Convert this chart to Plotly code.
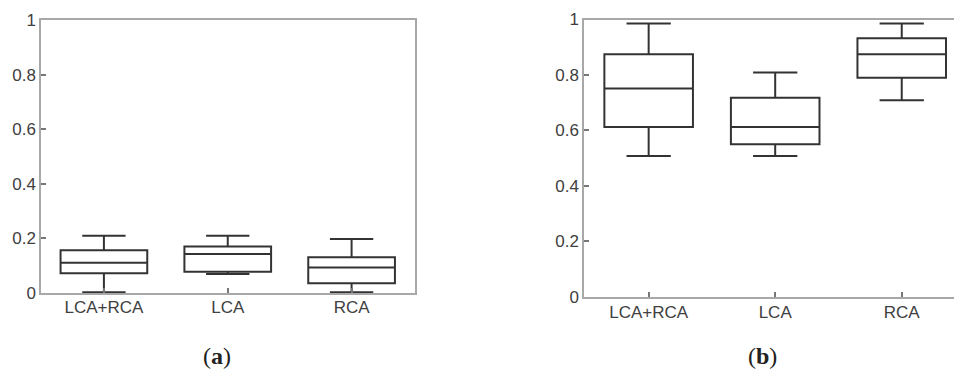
import plotly.graph_objects as go

categories = ["LCA+RCA", "LCA", "RCA"]

# Panel (a)
a_lower = [0.003, 0.070, 0.003]
a_q1 = [0.072, 0.078, 0.036]
a_median = [0.111, 0.143, 0.093]
a_q3 = [0.157, 0.170, 0.131]
a_upper = [0.210, 0.210, 0.198]

# Panel (b)
b_lower = [0.508, 0.508, 0.709]
b_q1 = [0.612, 0.550, 0.790]
b_median = [0.751, 0.612, 0.875]
b_q3 = [0.875, 0.718, 0.932]
b_upper = [0.986, 0.809, 0.986]

y_ticks = [0, 0.2, 0.4, 0.6, 0.8, 1]
y_ticktext = ["0", "0.2", "0.4", "0.6", "0.8", "1"]

W, H = 954, 374
BOX_COLOR = "#333333"
AXIS_COLOR = "#a8a8a8"
FONT = dict(family="Liberation Sans, Arial, sans-serif", size=17, color="#404040")

fig = go.Figure()


def add_box(xa, ya, lo, q1, med, q3, up):
    fig.add_trace(go.Box(
        x=categories, lowerfence=lo, q1=q1, median=med, q3=q3, upperfence=up,
        xaxis=xa, yaxis=ya, width=0.7, whiskerwidth=0.5,
        line=dict(color=BOX_COLOR, width=2), fillcolor="white",
        boxpoints=False, showlegend=False, hoverinfo="skip",
    ))


add_box("x", "y", a_lower, a_q1, a_median, a_q3, a_upper)
add_box("x2", "y2", b_lower, b_q1, b_median, b_q3, b_upper)

axis_common = dict(
    showline=True, linecolor=AXIS_COLOR, linewidth=1.5,
    showgrid=False, zeroline=False, ticks="inside", ticklen=5,
    tickcolor="#777777", tickwidth=1.5, tickfont=FONT, fixedrange=True,
    automargin=False,
)

# panel geometry (pixels)
aL, aR, aT, aB = 41, 414.5, 20, 293
bL, bR, bT, bB = 584, 954, 19.5, 296.7

CAP_FONT = dict(family="Liberation Serif, DejaVu Serif, serif", size=24, color="#222222")

fig.update_layout(
    template="none",
    width=W, height=H,
    margin=dict(l=0, r=0, t=0, b=0, autoexpand=False),
    paper_bgcolor="white", plot_bgcolor="white",
    xaxis=dict(axis_common, domain=[aL / W, aR / W], range=[-0.508, 2.508],
               mirror=True, anchor="y", ticklabelstandoff=-2),
    yaxis=dict(axis_common, domain=[(H - aB) / H, (H - aT) / H], range=[0, 1],
               tickvals=y_ticks, ticktext=y_ticktext, mirror=True, anchor="x"),
    xaxis2=dict(axis_common, domain=[bL / W, bR / W], range=[-0.511, 2.413],
                mirror=True, anchor="y2", ticklabelstandoff=-1),
    yaxis2=dict(axis_common, domain=[(H - bB) / H, (H - bT) / H], range=[0, 1],
                tickvals=y_ticks, ticktext=y_ticktext, mirror=False, anchor="x2"),
    annotations=[
        dict(text="(<b>a</b>)", x=217 / W, y=(H - 356) / H, xref="paper", yref="paper",
             showarrow=False, xanchor="center", yanchor="middle", font=CAP_FONT),
        dict(text="(<b>b</b>)", x=762 / W, y=(H - 356) / H, xref="paper", yref="paper",
             showarrow=False, xanchor="center", yanchor="middle", font=CAP_FONT),
    ],
)

fig.write_html("out.html", config=dict(displayModeBar=False),
               post_script="document.body.style.margin='0';document.body.style.overflow='hidden';")
